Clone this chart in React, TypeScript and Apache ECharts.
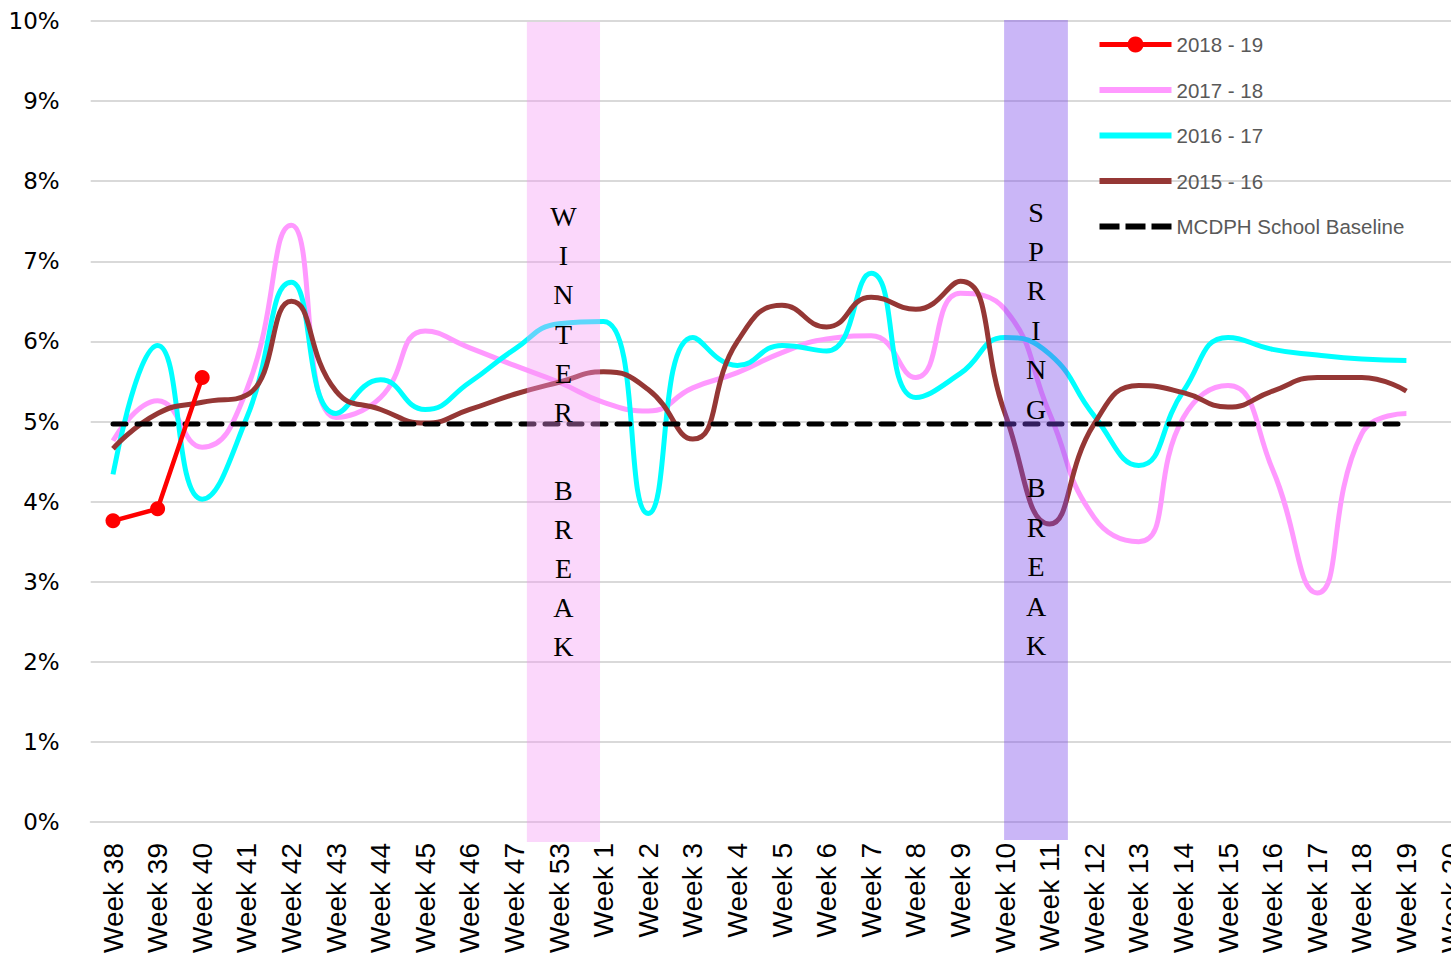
import React, { useEffect, useRef } from "react";
import * as echarts from "echarts";

const weeks = [
  "Week 38", "Week 39", "Week 40", "Week 41", "Week 42", "Week 43", "Week 44",
  "Week 45", "Week 46", "Week 47", "Week 53", "Week 1", "Week 2", "Week 3",
  "Week 4", "Week 5", "Week 6", "Week 7", "Week 8", "Week 9", "Week 10",
  "Week 11", "Week 12", "Week 13", "Week 14", "Week 15", "Week 16", "Week 17",
  "Week 18", "Week 19", "Week 20",
];

const season2018 = [3.76, 3.91, 5.55];
const season2017 = [
  4.76, 5.26, 4.68, 5.4, 7.45, 5.05, 5.3, 6.13, 5.92, 5.7, 5.49, 5.24, 5.13,
  5.42, 5.61, 5.86, 6.03, 6.07, 5.55, 6.6, 6.4, 5.1, 3.8, 3.5, 5.05, 5.45,
  4.4, 2.86, 4.85, 5.1,
];
const season2016 = [
  4.34, 5.95, 4.03, 5.05, 6.74, 5.1, 5.52, 5.15, 5.49, 5.9, 6.22, 6.25, 3.85,
  6.05, 5.7, 5.95, 5.88, 6.85, 5.3, 5.6, 6.05, 5.84, 5.07, 4.45, 5.38, 6.05,
  5.9, 5.83, 5.78, 5.76,
];
const season2015 = [
  4.66, 5.1, 5.24, 5.33, 6.5, 5.38, 5.15, 4.98, 5.15, 5.34, 5.49, 5.62, 5.4,
  4.78, 6.0, 6.45, 6.18, 6.55, 6.4, 6.75, 5.1, 3.72, 4.97, 5.45, 5.36, 5.18,
  5.38, 5.55, 5.55, 5.38,
];
const baselineValue = 4.97;
const baseline = season2016.map(() => baselineValue);

const seriesNames = ["2018 - 19", "2017 - 18", "2016 - 17", "2015 - 16", "MCDPH School Baseline"];

// school breaks, measured in category-index units
const breakLabels = ["WINTER BREAK", "SPRING BREAK"];
const breakStart = [9.28, 19.98];
const breakEnd = [10.92, 21.41];

const breakColors = ["rgba(245,150,245,0.38)", "rgba(122,72,235,0.4)"];

const barIcon = "path://M0,0H72V6H0Z";
const dashIcon = "path://M0,0H20V6H0Z M26,0H46V6H26Z M52,0H72V6H52Z";

export default function App() {
  const ref = useRef<HTMLDivElement>(null);

  useEffect(() => {
    document.body.style.margin = "0";
    document.body.style.overflow = "hidden";
    if (!ref.current) return;
    const chart = echarts.init(ref.current, undefined, { renderer: "svg" });

    const lineCommon = {
      type: "line" as const,
      smooth: 0.5,
      symbol: "none",
      xAxisIndex: 0,
      yAxisIndex: 0,
    };

    chart.setOption({
      animation: false,
      backgroundColor: "#ffffff",
      grid: { left: 90.7, top: 21, right: 0.7, bottom: 136, containLabel: false },
      legend: {
        orient: "vertical",
        left: 1097,
        top: 34,
        padding: 0,
        itemWidth: 72,
        itemHeight: 20,
        itemGap: 24.5,
        lineStyle: { width: 5 },
        data: [
          { name: seriesNames[0] },
          { name: seriesNames[1], icon: barIcon },
          { name: seriesNames[2], icon: barIcon },
          { name: seriesNames[3], icon: barIcon },
          { name: seriesNames[4], icon: dashIcon },
        ],
        textStyle: { color: "#595959", fontSize: 20.5, fontFamily: "Liberation Sans" },
      },
      xAxis: [
        {
          type: "category",
          data: weeks,
          boundaryGap: true,
          axisLine: { show: true, lineStyle: { color: "#d9d9d9", width: 2 } },
          axisTick: { show: false },
          axisLabel: {
            rotate: 90,
            interval: 0,
            margin: 21,
            fontSize: 28,
            fontFamily: "Liberation Sans",
            color: "#000000",
          },
        },
        {
          type: "value",
          min: -0.5,
          max: 30.5,
          show: false,
        },
      ],
      yAxis: {
        type: "value",
        min: 0,
        max: 10,
        interval: 1,
        axisLine: { show: false },
        axisTick: { show: false },
        axisLabel: {
          formatter: "{value}%",
          margin: 31,
          fontSize: 23,
          fontFamily: "DejaVu Sans",
          color: "#000000",
        },
        splitLine: { lineStyle: { color: "#d9d9d9", width: 2 } },
      },
      series: [
        {
          name: seriesNames[0],
          type: "line",
          data: season2018,
          symbol: "circle",
          symbolSize: 15,
          smooth: false,
          z: 8,
          lineStyle: { color: "#ff0000", width: 4.5 },
          itemStyle: { color: "#ff0000" },
        },
        {
          ...lineCommon,
          name: seriesNames[1],
          data: season2017,
          z: 3,
          lineStyle: { color: "#ff99ff", width: 5 },
          itemStyle: { color: "#ff99ff" },
        },
        {
          ...lineCommon,
          name: seriesNames[2],
          data: season2016,
          z: 4,
          lineStyle: { color: "#00ffff", width: 5 },
          itemStyle: { color: "#00ffff" },
        },
        {
          ...lineCommon,
          name: seriesNames[3],
          data: season2015,
          z: 5,
          lineStyle: { color: "#953735", width: 5 },
          itemStyle: { color: "#953735" },
        },
        {
          ...lineCommon,
          name: seriesNames[4],
          data: baseline,
          smooth: false,
          z: 6,
          lineStyle: { color: "#000000", width: 5, type: [13, 11], cap: "round" },
          itemStyle: { color: "#000000" },
        },
        {
          type: "custom",
          name: "breaks",
          xAxisIndex: 1,
          yAxisIndex: 0,
          z: 10,
          clip: false,
          silent: true,
          data: breakLabels.map((_, i) => [breakStart[i], breakEnd[i]]),
          renderItem: (params: any, api: any) => {
            const i = params.dataIndex;
            const p0 = api.coord([api.value(0), 10]);
            const p1 = api.coord([api.value(1), 0]);
            const top = p0[1] + (i === 0 ? 1 : -1);
            const bottom = p1[1] + (i === 0 ? 20 : 18);
            const cx = (p0[0] + p1[0]) / 2;
            const textTop = api.coord([0, i === 0 ? 7.8 : 7.86])[1];
            return {
              type: "group",
              children: [
                {
                  type: "rect",
                  shape: { x: p0[0], y: top, width: p1[0] - p0[0], height: bottom - top },
                  style: { fill: breakColors[i] },
                },
                {
                  type: "text",
                  x: cx,
                  y: textTop,
                  style: {
                    text: breakLabels[i].split("").join("\n"),
                    align: "center",
                    verticalAlign: "top",
                    fontSize: 28,
                    fontFamily: "Liberation Serif",
                    lineHeight: i === 0 ? 39.1 : 39.4,
                    fill: "#000000",
                  },
                },
              ],
            };
          },
        },
      ],
    });

    return () => chart.dispose();
  }, []);

  return (
    <div style={{ position: "absolute", left: 0, top: 0, width: 1451, height: 958, overflow: "hidden" }}>
      <div ref={ref} style={{ width: 1474, height: 958 }} />
    </div>
  );
}
